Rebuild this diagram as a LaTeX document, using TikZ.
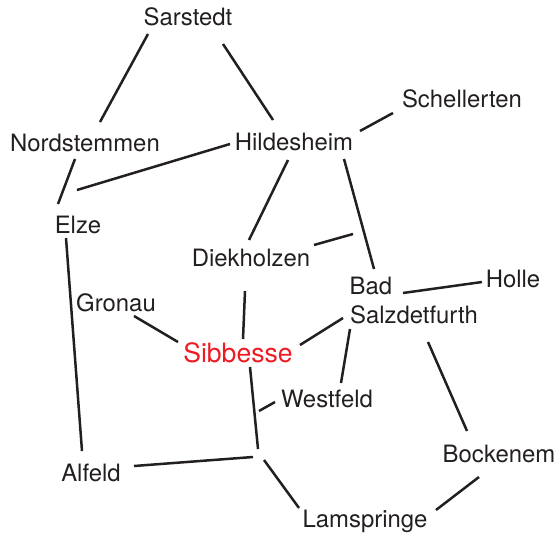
\documentclass[tikz,border=0pt]{standalone}
\usepackage{fontspec}
\setmainfont{TeX Gyre Heros}
\usetikzlibrary{calc}
\definecolor{sibred}{RGB}{237,28,36}
\definecolor{ink}{RGB}{35,31,32}
\tikzset{
  place/.style={inner sep=0pt,text=ink,font=\fontsize{23.9bp}{26bp}\selectfont,anchor=base},
  focus/.style={inner sep=0pt,text=sibred,font=\fontsize{26.6bp}{29bp}\selectfont,anchor=base},
  link/.style={draw=ink,line width=2.5bp}
}
\begin{document}
\begin{tikzpicture}[x=1bp,y=-1bp]
\useasboundingbox (0,0) rectangle (559,534);
\node[place] (sar) at (188,26) {Sarstedt};
\node[place] (sch) at (462,108) {Schellerten};
\node[place] (nor) at (85,152) {Nordstemmen};
\node[place] (hil) at (294,151) {Hildesheim};
\node[place] (elz) at (78,233) {Elze};
\node[place] (die) at (251,266) {Diekholzen};
\node[place] (bad) at (371,294) {Bad};
\node[place] (hol) at (513,287) {Holle};
\node[place] (gro) at (116,311) {Gronau};
\node[place] (sal) at (414,323) {Salzdetfurth};
\node[focus] (sib) at (238,362) {Sibbesse};
\node[place] (wes) at (327,407) {Westfeld};
\node[place] (boc) at (499,462) {Bockenem};
\node[place] (alf) at (91,481) {Alfeld};
\node[place] (lam) at (365,527) {Lamspringe};
\coordinate (j1) at (353,234);
\coordinate (j2) at (259,411);
\coordinate (j3) at (258,449);
\coordinate (j4) at (253,457);
\coordinate (j5) at (264,460);
\draw[link] ($(sar.base)+(-40,8)$) -- ($(nor.base)+(15,-30)$);
\draw[link] ($(sar.base)+(35,18)$) -- ($(hil.base)+(-21,-31)$);
\draw[link] ($(nor.base)+(-10,7)$) -- ($(elz.base)+(-20,-29)$);
\draw[link] ($(hil.base)+(-64,-7)$) -- ($(elz.base)+(-1,-43)$);
\draw[link] ($(hil.base)+(66,-20)$) -- ($(sch.base)+(-69,5)$);
\draw[link] ($(hil.base)+(-6,9)$) -- ($(die.base)+(-2,-26)$);
\draw[link] ($(hil.base)+(50,8)$) -- ($(bad.base)+(3,-25)$);
\draw[link] ($(die.base)+(63,-21)$) -- (j1);
\draw[link] ($(elz.base)+(-12,5)$) -- ($(alf.base)+(-9,-30)$);
\draw[link] ($(bad.base)+(32,-1)$) -- ($(hol.base)+(-31,-5)$);
\draw[link] ($(die.base)+(-6,25)$) -- ($(sib.base)+(5,-23)$);
\draw[link] ($(gro.base)+(18,5)$) -- ($(sib.base)+(-60,-20)$);
\draw[link] ($(sib.base)+(62,-17)$) -- ($(sal.base)+(-71,-5)$);
\draw[link] ($(sal.base)+(-64,6)$) -- ($(wes.base)+(14,-24)$);
\draw[link] ($(sib.base)+(12,5)$) -- (j3);
\draw[link] ($(wes.base)+(-52,-5)$) -- (j2);
\draw[link] ($(alf.base)+(43,-15)$) -- (j4);
\draw[link] ($(lam.base)+(-66,-19)$) -- (j5);
\draw[link] ($(sal.base)+(14,19)$) -- ($(boc.base)+(-32,-31)$);
\draw[link] ($(boc.base)+(-20,15)$) -- ($(lam.base)+(71,-17)$);
\end{tikzpicture}
\end{document}
